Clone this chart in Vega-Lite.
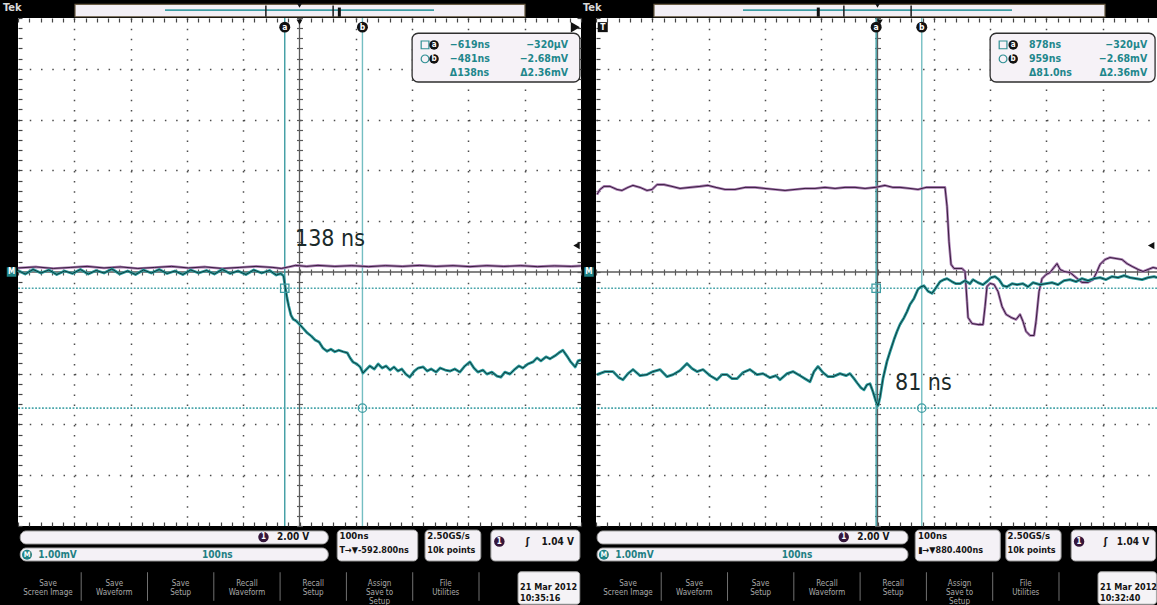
{
  "$schema": "https://vega.github.io/schema/vega-lite/v6.json",
  "background": "#000000",
  "padding": 0,
  "columns": 4,
  "spacing": 0,
  "bounds": "flush",
  "config": {
    "view": {"stroke": null},
    "font": "Liberation Sans Narrow, DejaVu Sans Condensed, sans-serif"
  },
  "datasets": {
    "math_l": [
      {"t": -1093, "v": 0.03}, {"t": -1080, "v": -0.04}, {"t": -1066, "v": 0.05}, {"t": -1052, "v": -0.02}, {"t": -1038, "v": 0.04},
      {"t": -1024, "v": -0.05}, {"t": -1010, "v": 0.02}, {"t": -996, "v": -0.03}, {"t": -982, "v": 0.05}, {"t": -968, "v": -0.04},
      {"t": -954, "v": 0.03}, {"t": -940, "v": -0.02}, {"t": -926, "v": 0.06}, {"t": -912, "v": -0.04}, {"t": -898, "v": 0.02},
      {"t": -884, "v": -0.05}, {"t": -870, "v": 0.04}, {"t": -856, "v": -0.02}, {"t": -842, "v": 0.05}, {"t": -828, "v": -0.03},
      {"t": -814, "v": 0.02}, {"t": -800, "v": -0.05}, {"t": -786, "v": 0.04}, {"t": -772, "v": -0.02}, {"t": -758, "v": 0.03},
      {"t": -744, "v": -0.04}, {"t": -730, "v": 0.05}, {"t": -716, "v": -0.03}, {"t": -702, "v": 0.02}, {"t": -688, "v": -0.05},
      {"t": -674, "v": 0.04}, {"t": -660, "v": -0.02}, {"t": -646, "v": 0.03}, {"t": -634, "v": -0.06}, {"t": -626, "v": -0.03},
      {"t": -621, "v": -0.08}, {"t": -618, "v": -0.31}, {"t": -615, "v": -0.51}, {"t": -612, "v": -0.67}, {"t": -608, "v": -0.85},
      {"t": -604, "v": -0.93}, {"t": -599, "v": -0.96}, {"t": -592, "v": -1.04}, {"t": -587, "v": -1.10}, {"t": -579, "v": -1.20},
      {"t": -572, "v": -1.26}, {"t": -565, "v": -1.34}, {"t": -558, "v": -1.38}, {"t": -551, "v": -1.50}, {"t": -544, "v": -1.56},
      {"t": -537, "v": -1.52}, {"t": -530, "v": -1.57}, {"t": -523, "v": -1.54}, {"t": -515, "v": -1.57}, {"t": -508, "v": -1.59},
      {"t": -503, "v": -1.69}, {"t": -498, "v": -1.77}, {"t": -491, "v": -1.81}, {"t": -485, "v": -1.87}, {"t": -480, "v": -1.99},
      {"t": -475, "v": -1.93}, {"t": -468, "v": -1.85}, {"t": -460, "v": -1.91}, {"t": -453, "v": -1.81}, {"t": -446, "v": -1.89},
      {"t": -439, "v": -1.85}, {"t": -432, "v": -1.93}, {"t": -425, "v": -1.87}, {"t": -418, "v": -1.95}, {"t": -411, "v": -1.91},
      {"t": -404, "v": -2.01}, {"t": -397, "v": -2.07}, {"t": -389, "v": -1.95}, {"t": -382, "v": -1.89}, {"t": -373, "v": -1.87},
      {"t": -366, "v": -1.95}, {"t": -359, "v": -1.91}, {"t": -350, "v": -1.97}, {"t": -343, "v": -1.89}, {"t": -334, "v": -1.93},
      {"t": -325, "v": -1.95}, {"t": -317, "v": -1.91}, {"t": -308, "v": -1.97}, {"t": -299, "v": -1.85}, {"t": -290, "v": -1.77},
      {"t": -283, "v": -1.89}, {"t": -276, "v": -1.97}, {"t": -267, "v": -1.93}, {"t": -260, "v": -2.01}, {"t": -251, "v": -1.97},
      {"t": -242, "v": -2.05}, {"t": -235, "v": -2.07}, {"t": -228, "v": -1.97}, {"t": -219, "v": -2.01}, {"t": -210, "v": -1.91},
      {"t": -203, "v": -1.85}, {"t": -196, "v": -1.89}, {"t": -187, "v": -1.81}, {"t": -178, "v": -1.77}, {"t": -171, "v": -1.69},
      {"t": -164, "v": -1.75}, {"t": -155, "v": -1.67}, {"t": -148, "v": -1.71}, {"t": -139, "v": -1.65}, {"t": -132, "v": -1.59},
      {"t": -125, "v": -1.54}, {"t": -118, "v": -1.65}, {"t": -111, "v": -1.77}, {"t": -103, "v": -1.87}, {"t": -98, "v": -1.75},
      {"t": -93, "v": -1.73}
    ],
    "ch1_l": [
      {"t": -1093, "v": 0.16}, {"t": -1060, "v": 0.2}, {"t": -1030, "v": 0.14}, {"t": -1000, "v": 0.18}, {"t": -970, "v": 0.22},
      {"t": -940, "v": 0.16}, {"t": -910, "v": 0.2}, {"t": -880, "v": 0.14}, {"t": -850, "v": 0.18}, {"t": -820, "v": 0.22},
      {"t": -790, "v": 0.16}, {"t": -760, "v": 0.2}, {"t": -730, "v": 0.14}, {"t": -700, "v": 0.18}, {"t": -670, "v": 0.22},
      {"t": -640, "v": 0.18}, {"t": -625, "v": 0.14}, {"t": -612, "v": 0.2}, {"t": -600, "v": 0.26}, {"t": -580, "v": 0.22},
      {"t": -560, "v": 0.26}, {"t": -530, "v": 0.22}, {"t": -500, "v": 0.25}, {"t": -470, "v": 0.21}, {"t": -440, "v": 0.25},
      {"t": -410, "v": 0.22}, {"t": -380, "v": 0.26}, {"t": -350, "v": 0.22}, {"t": -320, "v": 0.25}, {"t": -290, "v": 0.21},
      {"t": -260, "v": 0.25}, {"t": -230, "v": 0.22}, {"t": -200, "v": 0.25}, {"t": -170, "v": 0.21}, {"t": -140, "v": 0.24},
      {"t": -110, "v": 0.22}, {"t": -93, "v": 0.24}
    ],
    "math_r": [
      {"t": 382.2, "v": -2.02}, {"t": 396.4, "v": -1.96}, {"t": 410.6, "v": -1.96}, {"t": 421.3, "v": -2.08}, {"t": 428.4, "v": -2.12},
      {"t": 437.2, "v": -2.0}, {"t": 446.1, "v": -1.92}, {"t": 458.6, "v": -2.04}, {"t": 471.0, "v": -2.02}, {"t": 481.6, "v": -1.96},
      {"t": 494.1, "v": -1.92}, {"t": 506.5, "v": -2.06}, {"t": 517.2, "v": -2.02}, {"t": 529.6, "v": -1.94}, {"t": 542.0, "v": -1.8},
      {"t": 550.9, "v": -1.9}, {"t": 559.8, "v": -1.96}, {"t": 570.5, "v": -1.92}, {"t": 582.9, "v": -2.04}, {"t": 595.3, "v": -2.12},
      {"t": 604.2, "v": -2.02}, {"t": 613.1, "v": -2.02}, {"t": 622.0, "v": -2.1}, {"t": 630.8, "v": -2.1}, {"t": 641.5, "v": -1.98},
      {"t": 653.9, "v": -1.92}, {"t": 666.4, "v": -2.02}, {"t": 677.0, "v": -2.0}, {"t": 689.5, "v": -2.08}, {"t": 700.1, "v": -2.04},
      {"t": 707.2, "v": -2.12}, {"t": 719.7, "v": -2.0}, {"t": 730.3, "v": -1.96}, {"t": 742.7, "v": -2.04}, {"t": 751.6, "v": -2.1},
      {"t": 760.5, "v": -2.16}, {"t": 767.6, "v": -1.96}, {"t": 774.7, "v": -1.86}, {"t": 783.6, "v": -1.98}, {"t": 792.5, "v": -2.06},
      {"t": 801.4, "v": -2.06}, {"t": 813.8, "v": -2.0}, {"t": 824.5, "v": -2.04}, {"t": 831.5, "v": -2.0}, {"t": 838.7, "v": -2.1},
      {"t": 844.0, "v": -2.18}, {"t": 851.1, "v": -2.28}, {"t": 856.4, "v": -2.32}, {"t": 861.7, "v": -2.22}, {"t": 867.1, "v": -2.2},
      {"t": 872.4, "v": -2.36}, {"t": 877.7, "v": -2.55}, {"t": 881.3, "v": -2.63}, {"t": 884.8, "v": -2.47}, {"t": 890.1, "v": -2.1},
      {"t": 897.2, "v": -1.76}, {"t": 902.6, "v": -1.57}, {"t": 909.7, "v": -1.33}, {"t": 915.0, "v": -1.17}, {"t": 920.4, "v": -1.03},
      {"t": 927.5, "v": -0.9}, {"t": 932.8, "v": -0.78}, {"t": 938.1, "v": -0.64}, {"t": 945.2, "v": -0.52}, {"t": 952.3, "v": -0.34},
      {"t": 957.7, "v": -0.29}, {"t": 963.0, "v": -0.27}, {"t": 970.1, "v": -0.38}, {"t": 977.2, "v": -0.42}, {"t": 984.3, "v": -0.31},
      {"t": 991.4, "v": -0.19}, {"t": 998.5, "v": -0.15}, {"t": 1003.9, "v": -0.13}, {"t": 1012.7, "v": -0.19}, {"t": 1019.8, "v": -0.23},
      {"t": 1026.9, "v": -0.23}, {"t": 1035.8, "v": -0.17}, {"t": 1044.7, "v": -0.23}, {"t": 1050.0, "v": -0.15}, {"t": 1058.9, "v": -0.21},
      {"t": 1067.8, "v": -0.25}, {"t": 1076.7, "v": -0.17}, {"t": 1082.0, "v": -0.11}, {"t": 1089.1, "v": -0.09}, {"t": 1096.2, "v": -0.15},
      {"t": 1103.3, "v": -0.27}, {"t": 1110.4, "v": -0.29}, {"t": 1119.3, "v": -0.23}, {"t": 1128.2, "v": -0.25}, {"t": 1138.8, "v": -0.23},
      {"t": 1147.7, "v": -0.29}, {"t": 1156.6, "v": -0.21}, {"t": 1169.0, "v": -0.25}, {"t": 1179.7, "v": -0.23}, {"t": 1190.3, "v": -0.21},
      {"t": 1201.0, "v": -0.25}, {"t": 1211.7, "v": -0.17}, {"t": 1222.3, "v": -0.15}, {"t": 1233.0, "v": -0.19}, {"t": 1243.6, "v": -0.13},
      {"t": 1254.3, "v": -0.17}, {"t": 1265.0, "v": -0.13}, {"t": 1275.6, "v": -0.11}, {"t": 1286.3, "v": -0.15}, {"t": 1297.0, "v": -0.09},
      {"t": 1307.6, "v": -0.11}, {"t": 1318.3, "v": -0.07}, {"t": 1329.0, "v": -0.11}, {"t": 1339.6, "v": -0.13}, {"t": 1350.3, "v": -0.15},
      {"t": 1361.0, "v": -0.11}, {"t": 1371.6, "v": -0.09}, {"t": 1376.9, "v": -0.11}
    ],
    "ch1_r": [
      {"t": 382.2, "v": 3.05}, {"t": 387.5, "v": 3.25}, {"t": 394.6, "v": 3.37}, {"t": 405.3, "v": 3.37}, {"t": 417.7, "v": 3.25},
      {"t": 426.6, "v": 3.21}, {"t": 437.2, "v": 3.33}, {"t": 446.1, "v": 3.41}, {"t": 458.6, "v": 3.33}, {"t": 471.0, "v": 3.21},
      {"t": 479.9, "v": 3.25}, {"t": 488.8, "v": 3.44}, {"t": 501.2, "v": 3.44}, {"t": 515.4, "v": 3.37}, {"t": 529.6, "v": 3.29},
      {"t": 547.4, "v": 3.33}, {"t": 565.1, "v": 3.37}, {"t": 579.3, "v": 3.41}, {"t": 593.5, "v": 3.33}, {"t": 609.5, "v": 3.25},
      {"t": 627.3, "v": 3.25}, {"t": 645.1, "v": 3.33}, {"t": 662.9, "v": 3.33}, {"t": 680.6, "v": 3.29}, {"t": 698.4, "v": 3.25},
      {"t": 716.2, "v": 3.21}, {"t": 733.9, "v": 3.25}, {"t": 751.7, "v": 3.29}, {"t": 769.4, "v": 3.29}, {"t": 787.2, "v": 3.33},
      {"t": 805.0, "v": 3.29}, {"t": 822.7, "v": 3.33}, {"t": 840.5, "v": 3.33}, {"t": 858.3, "v": 3.29}, {"t": 876.0, "v": 3.33},
      {"t": 893.8, "v": 3.41}, {"t": 908.0, "v": 3.33}, {"t": 920.4, "v": 3.33}, {"t": 938.1, "v": 3.29}, {"t": 952.3, "v": 3.25},
      {"t": 966.5, "v": 3.33}, {"t": 982.5, "v": 3.33}, {"t": 1000.3, "v": 3.33}, {"t": 1003.9, "v": 2.58}, {"t": 1007.4, "v": 1.2},
      {"t": 1011.0, "v": 0.3}, {"t": 1016.3, "v": 0.14}, {"t": 1023.4, "v": 0.14}, {"t": 1030.5, "v": 0.14}, {"t": 1035.8, "v": 0.02},
      {"t": 1039.4, "v": -1.16}, {"t": 1041.2, "v": -1.79}, {"t": 1048.3, "v": -2.03}, {"t": 1058.9, "v": -2.07}, {"t": 1067.8, "v": -2.07},
      {"t": 1071.4, "v": -1.36}, {"t": 1074.9, "v": -0.57}, {"t": 1080.3, "v": -0.45}, {"t": 1087.4, "v": -0.49}, {"t": 1094.5, "v": -0.77},
      {"t": 1101.6, "v": -1.36}, {"t": 1108.7, "v": -1.67}, {"t": 1117.6, "v": -1.79}, {"t": 1126.5, "v": -1.87}, {"t": 1133.6, "v": -1.67},
      {"t": 1138.8, "v": -1.95}, {"t": 1144.2, "v": -2.34}, {"t": 1151.3, "v": -2.5}, {"t": 1158.4, "v": -2.5}, {"t": 1161.9, "v": -1.95},
      {"t": 1167.3, "v": -0.77}, {"t": 1172.6, "v": -0.26}, {"t": 1179.7, "v": -0.1}, {"t": 1186.8, "v": -0.02}, {"t": 1193.9, "v": 0.18},
      {"t": 1199.2, "v": 0.33}, {"t": 1204.6, "v": 0.1}, {"t": 1211.7, "v": 0.02}, {"t": 1222.3, "v": -0.02}, {"t": 1233.0, "v": -0.22},
      {"t": 1243.6, "v": -0.41}, {"t": 1254.3, "v": -0.41}, {"t": 1263.2, "v": -0.3}, {"t": 1270.3, "v": 0.02}, {"t": 1275.6, "v": 0.3},
      {"t": 1284.5, "v": 0.49}, {"t": 1293.4, "v": 0.57}, {"t": 1304.1, "v": 0.53}, {"t": 1314.7, "v": 0.49}, {"t": 1323.6, "v": 0.33},
      {"t": 1332.5, "v": 0.22}, {"t": 1343.2, "v": 0.1}, {"t": 1352.1, "v": 0.02}, {"t": 1361.0, "v": 0.1}, {"t": 1369.9, "v": 0.18},
      {"t": 1376.9, "v": 0.14}
    ],
    "cur_l": [{"cursor": "a", "t": -619, "v": -0.32}, {"cursor": "b", "t": -481, "v": -2.68}],
    "cur_r": [{"cursor": "a", "t": 878, "v": -0.32}, {"cursor": "b", "t": 959, "v": -2.68}],
    "ro_l": [
      {"row": 1, "cursor": "a", "time": "−619ns", "volt": "−320µV"},
      {"row": 2, "cursor": "b", "time": "−481ns", "volt": "−2.68mV"},
      {"row": 3, "cursor": "Δ", "time": "Δ138ns", "volt": "Δ2.36mV"}
    ],
    "ro_r": [
      {"row": 1, "cursor": "a", "time": "878ns", "volt": "−320µV"},
      {"row": 2, "cursor": "b", "time": "959ns", "volt": "−2.68mV"},
      {"row": 3, "cursor": "Δ", "time": "Δ81.0ns", "volt": "Δ2.36mV"}
    ],
    "rec_l": [{"part": "record", "start": -2592.8, "end": 1407.2}, {"part": "screen", "start": -1092.8, "end": -92.8}],
    "rec_r": [{"part": "record", "start": -1119.6, "end": 2880.4}, {"part": "screen", "start": 380.4, "end": 1380.4}],
    "menu": [
      {"slot": 1, "label": "Save\nScreen Image"},
      {"slot": 2, "label": "Save\nWaveform"},
      {"slot": 3, "label": "Save\nSetup"},
      {"slot": 4, "label": "Recall\nWaveform"},
      {"slot": 5, "label": "Recall\nSetup"},
      {"slot": 6, "label": "Assign\nSave to\nSetup"},
      {"slot": 7, "label": "File\nUtilities"}
    ]
  },
  "concat": [
    {
      "width": 18, "height": 18, "data": {"values": [{}]},
      "mark": {"type": "text", "text": "Tek", "fontSize": 11, "fontWeight": "bold", "color": "#d9d9d9", "align": "left", "baseline": "middle"},
      "encoding": {"x": {"datum": 0.17, "type": "quantitative", "scale": {"domain": [0, 1], "nice": false, "zero": false}, "axis": null},
                   "y": {"datum": 0.45, "type": "quantitative", "scale": {"domain": [0, 1], "reverse": true, "nice": false, "zero": false}, "axis": null}}
    },
    {
      "width": 563,
      "height": 18,
      "data": {"values": [{}]},
      "layer": [
        {"mark": {"type": "rect", "fill": "#f3eff5", "stroke": "#6b5d45", "strokeWidth": 1.2},
         "encoding": {"x": {"datum": -3931, "type": "quantitative", "scale": {"domain": [-4778.7, 3593.1], "nice": false, "zero": false}, "axis": null}, "x2": {"datum": 2760},
                      "y": {"datum": 0.24, "type": "quantitative", "scale": {"domain": [0, 1], "reverse": true, "nice": false, "zero": false}, "axis": null}, "y2": {"datum": 0.93}}},
        {"data": {"name": "rec_l"}, "transform": [{"filter": "datum.part == 'record'"}],
         "mark": {"type": "rule", "color": "#3d9da3", "strokeWidth": 1.6},
         "encoding": {"x": {"field": "start", "type": "quantitative", "axis": null}, "x2": {"field": "end"},
                      "y": {"datum": 0.56, "type": "quantitative", "axis": null}}},
        {"data": {"name": "rec_l"}, "transform": [{"filter": "datum.part == 'screen'"}],
         "mark": {"type": "rule", "color": "#1a1a1a", "strokeWidth": 1.5},
         "encoding": {"x": {"field": "start", "type": "quantitative", "axis": null},
                      "y": {"datum": 0.3, "type": "quantitative", "axis": null}, "y2": {"datum": 0.93}}},
        {"data": {"name": "rec_l"}, "transform": [{"filter": "datum.part == 'screen'"}],
         "mark": {"type": "rule", "color": "#1a1a1a", "strokeWidth": 1.5},
         "encoding": {"x": {"field": "end", "type": "quantitative", "axis": null},
                      "y": {"datum": 0.3, "type": "quantitative", "axis": null}, "y2": {"datum": 0.93}}},
        {"mark": {"type": "rule", "color": "#111111", "strokeWidth": 3},
         "encoding": {"x": {"datum": 0, "type": "quantitative", "axis": null},
                      "y": {"datum": 0.42, "type": "quantitative", "axis": null}, "y2": {"datum": 0.93}}},
        {"mark": {"type": "point", "shape": "triangle-down", "filled": true, "color": "#111111", "size": 30, "opacity": 1},
         "encoding": {"x": {"datum": -592.8, "type": "quantitative", "axis": null},
                      "y": {"datum": 0.3, "type": "quantitative", "axis": null}}}
      ]
    },
    {
      "width": 15, "height": 18, "data": {"values": [{}]},
      "mark": {"type": "text", "text": "Tek", "fontSize": 11, "fontWeight": "bold", "color": "#d9d9d9", "align": "left", "baseline": "middle"},
      "encoding": {"x": {"datum": 0.13, "type": "quantitative", "scale": {"domain": [0, 1], "nice": false, "zero": false}, "axis": null},
                   "y": {"datum": 0.45, "type": "quantitative", "scale": {"domain": [0, 1], "reverse": true, "nice": false, "zero": false}, "axis": null}}
    },
    {
      "width": 561,
      "height": 18,
      "data": {"values": [{}]},
      "layer": [
        {"mark": {"type": "rect", "fill": "#f3eff5", "stroke": "#6b5d45", "strokeWidth": 1.2},
         "encoding": {"x": {"datum": -2443, "type": "quantitative", "scale": {"domain": [-3305.5, 5036.6], "nice": false, "zero": false}, "axis": null}, "x2": {"datum": 4263},
                      "y": {"datum": 0.24, "type": "quantitative", "scale": {"domain": [0, 1], "reverse": true, "nice": false, "zero": false}, "axis": null}, "y2": {"datum": 0.93}}},
        {"data": {"name": "rec_r"}, "transform": [{"filter": "datum.part == 'record'"}],
         "mark": {"type": "rule", "color": "#3d9da3", "strokeWidth": 1.6},
         "encoding": {"x": {"field": "start", "type": "quantitative", "axis": null}, "x2": {"field": "end"},
                      "y": {"datum": 0.56, "type": "quantitative", "axis": null}}},
        {"data": {"name": "rec_r"}, "transform": [{"filter": "datum.part == 'screen'"}],
         "mark": {"type": "rule", "color": "#1a1a1a", "strokeWidth": 1.5},
         "encoding": {"x": {"field": "start", "type": "quantitative", "axis": null},
                      "y": {"datum": 0.3, "type": "quantitative", "axis": null}, "y2": {"datum": 0.93}}},
        {"data": {"name": "rec_r"}, "transform": [{"filter": "datum.part == 'screen'"}],
         "mark": {"type": "rule", "color": "#1a1a1a", "strokeWidth": 1.5},
         "encoding": {"x": {"field": "end", "type": "quantitative", "axis": null},
                      "y": {"datum": 0.3, "type": "quantitative", "axis": null}, "y2": {"datum": 0.93}}},
        {"mark": {"type": "rule", "color": "#111111", "strokeWidth": 3},
         "encoding": {"x": {"datum": 0, "type": "quantitative", "axis": null},
                      "y": {"datum": 0.42, "type": "quantitative", "axis": null}, "y2": {"datum": 0.93}}},
        {"mark": {"type": "point", "shape": "triangle-down", "filled": true, "color": "#111111", "size": 30, "opacity": 1},
         "encoding": {"x": {"datum": 880.4, "type": "quantitative", "axis": null},
                      "y": {"datum": 0.3, "type": "quantitative", "axis": null}}}
      ]
    },
    {
      "width": 18,
      "height": 508,
      "data": {"values": [{}]},
      "layer": [
        {"mark": {"type": "point", "shape": "square", "filled": true, "color": "#1f8386", "size": 90, "opacity": 1},
         "encoding": {"x": {"datum": 0.64, "type": "quantitative", "scale": {"domain": [0, 1], "nice": false, "zero": false}, "axis": null},
                      "y": {"datum": 0, "type": "quantitative", "scale": {"domain": [-5, 5], "nice": false, "zero": false}, "axis": null}}},
        {"mark": {"type": "text", "text": "M", "color": "#ffffff", "fontSize": 8, "fontWeight": "bold", "baseline": "middle"},
         "encoding": {"x": {"datum": 0.64, "type": "quantitative", "axis": null},
                      "y": {"datum": 0, "type": "quantitative", "axis": null}}}
      ]
    },
    {
      "width": 563,
      "height": 508,
      "view": {"fill": "#ffffff", "stroke": null},
      "data": {"values": [{}]},
      "resolve": {"scale": {"x": "independent", "y": "independent"}, "axis": {"x": "independent", "y": "independent"}},
      "layer": [
        {"mark": {"type": "rule", "color": "#5a5a5a", "strokeWidth": 1.3},
         "encoding": {"x": {"datum": 0, "type": "quantitative", "scale": {"domain": [0, 10], "nice": false, "zero": false}, "axis": null}, "x2": {"datum": 10},
           "y": {"datum": 0, "type": "quantitative", "scale": {"domain": [-5, 5], "nice": false, "zero": false},
           "axis": {"orient": "left", "values": [-4, -3, -2, -1, 1, 2, 3, 4], "grid": true, "gridColor": "#4d4d4d", "gridWidth": 1.5, "gridDash": [1.5, 9.76], "ticks": false, "labels": false, "domain": false, "title": null}}}},
        {"mark": {"type": "rule", "color": "#5a5a5a", "strokeWidth": 1.3},
         "encoding": {"x": {"datum": 5, "type": "quantitative", "scale": {"domain": [0, 10], "nice": false, "zero": false},
           "axis": {"orient": "bottom", "values": [1, 2, 3, 4, 6, 7, 8, 9], "grid": true, "gridColor": "#4d4d4d", "gridWidth": 1.5, "gridDash": [1.5, 8.66], "ticks": false, "labels": false, "domain": false, "title": null}},
           "y": {"datum": -5, "type": "quantitative", "scale": {"domain": [-5, 5], "nice": false, "zero": false}, "axis": null}, "y2": {"datum": 5}}},
        {"mark": {"type": "point", "opacity": 0},
         "encoding": {
           "x": {"datum": 5, "type": "quantitative", "scale": {"domain": [0, 10], "nice": false, "zero": false},
             "axis": {"orient": "bottom", "offset": -257, "tickCount": 50, "tickSize": 6, "tickColor": "#5a5a5a", "tickWidth": 1.2, "grid": false, "labels": false, "domain": false, "title": null}},
           "y": {"datum": 0, "type": "quantitative", "scale": {"domain": [-5, 5], "nice": false, "zero": false},
             "axis": {"orient": "left", "offset": -284.5, "tickCount": 50, "tickSize": 6, "tickColor": "#5a5a5a", "tickWidth": 1.2, "grid": false, "labels": false, "domain": false, "title": null}}}},
        {"mark": {"type": "point", "opacity": 0},
         "encoding": {
           "x": {"datum": 5, "type": "quantitative", "scale": {"domain": [0, 10], "nice": false, "zero": false},
             "axis": {"orient": "top", "offset": -4, "tickCount": 50, "tickSize": 4, "tickColor": "#444444", "tickWidth": 1.2, "grid": false, "labels": false, "domain": false, "title": null}},
           "y": {"datum": 0, "type": "quantitative", "scale": {"domain": [-5, 5], "nice": false, "zero": false},
             "axis": {"orient": "left", "offset": -4, "tickCount": 50, "tickSize": 4, "tickColor": "#444444", "tickWidth": 1.2, "grid": false, "labels": false, "domain": false, "title": null}}}},
        {"mark": {"type": "point", "opacity": 0},
         "encoding": {
           "x": {"datum": 5, "type": "quantitative", "scale": {"domain": [0, 10], "nice": false, "zero": false},
             "axis": {"orient": "bottom", "offset": -4, "tickCount": 50, "tickSize": 4, "tickColor": "#444444", "tickWidth": 1.2, "grid": false, "labels": false, "domain": false, "title": null}},
           "y": {"datum": 0, "type": "quantitative", "scale": {"domain": [-5, 5], "nice": false, "zero": false},
             "axis": {"orient": "right", "offset": -4, "tickCount": 50, "tickSize": 4, "tickColor": "#444444", "tickWidth": 1.2, "grid": false, "labels": false, "domain": false, "title": null}}}},
        {"data": {"name": "cur_l"}, "mark": {"type": "rule", "strokeWidth": 1.4},
         "encoding": {"x": {"field": "t", "type": "quantitative", "scale": {"domain": [-1092.8, -92.8], "nice": false, "zero": false}, "axis": null},
                      "color": {"field": "cursor", "type": "nominal", "scale": {"domain": ["a", "b"], "range": ["#3d9ca2", "#74bec2"]}, "legend": null}}},
        {"data": {"name": "cur_l"}, "mark": {"type": "rule", "color": "#4aa6ab", "strokeWidth": 1.6, "strokeDash": [1.8, 1.6]},
         "encoding": {"y": {"field": "v", "type": "quantitative", "scale": {"domain": [-5, 5], "nice": false, "zero": false}, "axis": null}}},
        {"data": {"name": "ch1_l"}, "mark": {"type": "line", "color": "#a97db2", "strokeWidth": 2.6, "strokeJoin": "round"},
         "encoding": {"x": {"field": "t", "type": "quantitative", "scale": {"domain": [-1092.8, -92.8], "nice": false, "zero": false}, "axis": null},
                      "y": {"field": "v", "type": "quantitative", "scale": {"domain": [-10, 10], "nice": false, "zero": false}, "axis": null}}},
        {"data": {"name": "ch1_l"}, "mark": {"type": "line", "color": "#2b1331", "strokeWidth": 0.9, "strokeJoin": "round"},
         "encoding": {"x": {"field": "t", "type": "quantitative", "scale": {"domain": [-1092.8, -92.8], "nice": false, "zero": false}, "axis": null},
                      "y": {"field": "v", "type": "quantitative", "scale": {"domain": [-10, 10], "nice": false, "zero": false}, "axis": null}}},
        {"data": {"name": "math_l"}, "mark": {"type": "line", "color": "#2c9c9e", "strokeWidth": 2.8, "strokeJoin": "round"},
         "encoding": {"x": {"field": "t", "type": "quantitative", "scale": {"domain": [-1092.8, -92.8], "nice": false, "zero": false}, "axis": null},
                      "y": {"field": "v", "type": "quantitative", "scale": {"domain": [-5, 5], "nice": false, "zero": false}, "axis": null}}},
        {"data": {"name": "math_l"}, "mark": {"type": "line", "color": "#0f3c3d", "strokeWidth": 1, "strokeJoin": "round"},
         "encoding": {"x": {"field": "t", "type": "quantitative", "scale": {"domain": [-1092.8, -92.8], "nice": false, "zero": false}, "axis": null},
                      "y": {"field": "v", "type": "quantitative", "scale": {"domain": [-5, 5], "nice": false, "zero": false}, "axis": null}}},
        {"data": {"name": "cur_l"}, "mark": {"type": "point", "filled": false, "color": "#3d9ca2", "size": 70, "strokeWidth": 1.3, "opacity": 1},
         "encoding": {"x": {"field": "t", "type": "quantitative", "scale": {"domain": [-1092.8, -92.8], "nice": false, "zero": false}, "axis": null},
                      "y": {"field": "v", "type": "quantitative", "scale": {"domain": [-5, 5], "nice": false, "zero": false}, "axis": null},
                      "shape": {"field": "cursor", "type": "nominal", "scale": {"domain": ["a", "b"], "range": ["square", "circle"]}, "legend": null}}},
        {"data": {"name": "cur_l"}, "mark": {"type": "point", "filled": true, "shape": "circle", "color": "#111111", "size": 120, "opacity": 1},
         "encoding": {"x": {"field": "t", "type": "quantitative", "scale": {"domain": [-1092.8, -92.8], "nice": false, "zero": false}, "axis": null},
                      "y": {"datum": 4.82, "type": "quantitative", "scale": {"domain": [-5, 5], "nice": false, "zero": false}, "axis": null}}},
        {"data": {"name": "cur_l"}, "mark": {"type": "text", "color": "#ffffff", "fontSize": 8.5, "fontWeight": "bold", "baseline": "middle"},
         "encoding": {"x": {"field": "t", "type": "quantitative", "scale": {"domain": [-1092.8, -92.8], "nice": false, "zero": false}, "axis": null},
                      "y": {"datum": 4.82, "type": "quantitative", "scale": {"domain": [-5, 5], "nice": false, "zero": false}, "axis": null},
                      "text": {"field": "cursor"}}},
        {"mark": {"type": "point", "shape": "triangle-down", "filled": true, "color": "#111111", "size": 35, "opacity": 1},
         "encoding": {"x": {"datum": 5, "type": "quantitative", "scale": {"domain": [0, 10], "nice": false, "zero": false}, "axis": null},
                      "y": {"datum": 4.92, "type": "quantitative", "scale": {"domain": [-5, 5], "nice": false, "zero": false}, "axis": null}}},
        {"mark": {"type": "point", "shape": "triangle-right", "filled": true, "color": "#111111", "size": 110, "opacity": 1},
         "encoding": {"x": {"datum": 9.9, "type": "quantitative", "scale": {"domain": [0, 10], "nice": false, "zero": false}, "axis": null},
                      "y": {"datum": 4.82, "type": "quantitative", "scale": {"domain": [-5, 5], "nice": false, "zero": false}, "axis": null}}},
        {"mark": {"type": "point", "shape": "triangle-left", "filled": true, "color": "#111111", "size": 55, "opacity": 1},
         "encoding": {"x": {"datum": 9.92, "type": "quantitative", "scale": {"domain": [0, 10], "nice": false, "zero": false}, "axis": null},
                      "y": {"datum": 1.04, "type": "quantitative", "scale": {"domain": [-10, 10], "nice": false, "zero": false}, "axis": null}}},
        {"mark": {"type": "rect", "fill": "#f6f2f7", "stroke": "#2f2f2f", "strokeWidth": 1.3, "cornerRadius": 6},
         "encoding": {"x": {"datum": 7.0, "type": "quantitative", "scale": {"domain": [0, 10], "nice": false, "zero": false}, "axis": null}, "x2": {"datum": 9.98},
                      "y": {"datum": 4.7, "type": "quantitative", "scale": {"domain": [-5, 5], "nice": false, "zero": false}, "axis": null}, "y2": {"datum": 3.74}}},
        {"data": {"name": "ro_l"}, "transform": [{"filter": "datum.row < 3"}],
         "mark": {"type": "point", "filled": false, "color": "#2f8f94", "size": 60, "strokeWidth": 1.2, "opacity": 1},
         "encoding": {"x": {"datum": 7.23, "type": "quantitative", "scale": {"domain": [0, 10], "nice": false, "zero": false}, "axis": null},
                      "y": {"field": "row", "type": "quantitative", "scale": {"domain": [-0.92, 35.36], "reverse": true, "nice": false, "zero": false}, "axis": null},
                      "shape": {"field": "cursor", "type": "nominal", "scale": {"domain": ["a", "b"], "range": ["square", "circle"]}, "legend": null}}},
        {"data": {"name": "ro_l"}, "transform": [{"filter": "datum.row < 3"}],
         "mark": {"type": "point", "filled": true, "shape": "circle", "color": "#111111", "size": 90, "opacity": 1},
         "encoding": {"x": {"datum": 7.39, "type": "quantitative", "scale": {"domain": [0, 10], "nice": false, "zero": false}, "axis": null},
                      "y": {"field": "row", "type": "quantitative", "scale": {"domain": [-0.92, 35.36], "reverse": true, "nice": false, "zero": false}, "axis": null}}},
        {"data": {"name": "ro_l"}, "transform": [{"filter": "datum.row < 3"}],
         "mark": {"type": "text", "color": "#ffffff", "fontSize": 8, "fontWeight": "bold", "baseline": "middle"},
         "encoding": {"x": {"datum": 7.39, "type": "quantitative", "scale": {"domain": [0, 10], "nice": false, "zero": false}, "axis": null},
                      "y": {"field": "row", "type": "quantitative", "scale": {"domain": [-0.92, 35.36], "reverse": true, "nice": false, "zero": false}, "axis": null},
                      "text": {"field": "cursor"}}},
        {"data": {"name": "ro_l"},
         "mark": {"type": "text", "color": "#1f878c", "fontSize": 10.5, "fontWeight": "bold", "align": "left", "baseline": "middle"},
         "encoding": {"x": {"datum": 7.67, "type": "quantitative", "scale": {"domain": [0, 10], "nice": false, "zero": false}, "axis": null},
                      "y": {"field": "row", "type": "quantitative", "scale": {"domain": [-0.92, 35.36], "reverse": true, "nice": false, "zero": false}, "axis": null},
                      "text": {"field": "time"}}},
        {"data": {"name": "ro_l"},
         "mark": {"type": "text", "color": "#1f878c", "fontSize": 10.5, "fontWeight": "bold", "align": "right", "baseline": "middle"},
         "encoding": {"x": {"datum": 9.77, "type": "quantitative", "scale": {"domain": [0, 10], "nice": false, "zero": false}, "axis": null},
                      "y": {"field": "row", "type": "quantitative", "scale": {"domain": [-0.92, 35.36], "reverse": true, "nice": false, "zero": false}, "axis": null},
                      "text": {"field": "volt"}}},
        {"mark": {"type": "text", "text": "138 ns", "fontSize": 23, "align": "left", "baseline": "middle", "color": "#1b2a2a"},
         "encoding": {"x": {"datum": 4.92, "type": "quantitative", "scale": {"domain": [0, 10], "nice": false, "zero": false}, "axis": null},
                      "y": {"datum": 0.65, "type": "quantitative", "scale": {"domain": [-5, 5], "nice": false, "zero": false}, "axis": null}}}
      ]
    },
    {
      "width": 15,
      "height": 508,
      "data": {"values": [{}]},
      "layer": [
        {"mark": {"type": "point", "shape": "square", "filled": true, "color": "#1f8386", "size": 90, "opacity": 1},
         "encoding": {"x": {"datum": 0.53, "type": "quantitative", "scale": {"domain": [0, 1], "nice": false, "zero": false}, "axis": null},
                      "y": {"datum": 0, "type": "quantitative", "scale": {"domain": [-5, 5], "nice": false, "zero": false}, "axis": null}}},
        {"mark": {"type": "text", "text": "M", "color": "#ffffff", "fontSize": 8, "fontWeight": "bold", "baseline": "middle"},
         "encoding": {"x": {"datum": 0.53, "type": "quantitative", "axis": null},
                      "y": {"datum": 0, "type": "quantitative", "axis": null}}}
      ]
    },
    {
      "width": 561,
      "height": 508,
      "view": {"fill": "#ffffff", "stroke": null},
      "data": {"values": [{}]},
      "resolve": {"scale": {"x": "independent", "y": "independent"}, "axis": {"x": "independent", "y": "independent"}},
      "layer": [
        {"mark": {"type": "rule", "color": "#5a5a5a", "strokeWidth": 1.3},
         "encoding": {"x": {"datum": 0, "type": "quantitative", "scale": {"domain": [0, 9.964], "nice": false, "zero": false}, "axis": null}, "x2": {"datum": 9.964},
           "y": {"datum": 0, "type": "quantitative", "scale": {"domain": [-5, 5], "nice": false, "zero": false},
           "axis": {"orient": "left", "values": [-4, -3, -2, -1, 1, 2, 3, 4], "grid": true, "gridColor": "#4d4d4d", "gridWidth": 1.5, "gridDash": [1.5, 9.76], "ticks": false, "labels": false, "domain": false, "title": null}}}},
        {"mark": {"type": "rule", "color": "#5a5a5a", "strokeWidth": 1.3},
         "encoding": {"x": {"datum": 5, "type": "quantitative", "scale": {"domain": [0, 9.964], "nice": false, "zero": false},
           "axis": {"orient": "bottom", "values": [1, 2, 3, 4, 6, 7, 8, 9], "grid": true, "gridColor": "#4d4d4d", "gridWidth": 1.5, "gridDash": [1.5, 8.66], "ticks": false, "labels": false, "domain": false, "title": null}},
           "y": {"datum": -5, "type": "quantitative", "scale": {"domain": [-5, 5], "nice": false, "zero": false}, "axis": null}, "y2": {"datum": 5}}},
        {"mark": {"type": "point", "opacity": 0},
         "encoding": {
           "x": {"datum": 5, "type": "quantitative", "scale": {"domain": [0, 9.964], "nice": false, "zero": false},
             "axis": {"orient": "bottom", "offset": -257, "tickCount": 50, "tickSize": 6, "tickColor": "#5a5a5a", "tickWidth": 1.2, "grid": false, "labels": false, "domain": false, "title": null}},
           "y": {"datum": 0, "type": "quantitative", "scale": {"domain": [-5, 5], "nice": false, "zero": false},
             "axis": {"orient": "left", "offset": -284.5, "tickCount": 50, "tickSize": 6, "tickColor": "#5a5a5a", "tickWidth": 1.2, "grid": false, "labels": false, "domain": false, "title": null}}}},
        {"mark": {"type": "point", "opacity": 0},
         "encoding": {
           "x": {"datum": 5, "type": "quantitative", "scale": {"domain": [0, 9.964], "nice": false, "zero": false},
             "axis": {"orient": "top", "offset": -4, "tickCount": 50, "tickSize": 4, "tickColor": "#444444", "tickWidth": 1.2, "grid": false, "labels": false, "domain": false, "title": null}},
           "y": {"datum": 0, "type": "quantitative", "scale": {"domain": [-5, 5], "nice": false, "zero": false},
             "axis": {"orient": "left", "offset": -4, "tickCount": 50, "tickSize": 4, "tickColor": "#444444", "tickWidth": 1.2, "grid": false, "labels": false, "domain": false, "title": null}}}},
        {"mark": {"type": "point", "opacity": 0},
         "encoding": {
           "x": {"datum": 5, "type": "quantitative", "scale": {"domain": [0, 9.964], "nice": false, "zero": false},
             "axis": {"orient": "bottom", "offset": -4, "tickCount": 50, "tickSize": 4, "tickColor": "#444444", "tickWidth": 1.2, "grid": false, "labels": false, "domain": false, "title": null}},
           "y": {"datum": 0, "type": "quantitative", "scale": {"domain": [-5, 5], "nice": false, "zero": false}, "axis": null}}},
        {"data": {"name": "cur_r"}, "mark": {"type": "rule", "strokeWidth": 1.4},
         "encoding": {"x": {"field": "t", "type": "quantitative", "scale": {"domain": [380.4, 1376.8], "nice": false, "zero": false}, "axis": null},
                      "color": {"field": "cursor", "type": "nominal", "scale": {"domain": ["a", "b"], "range": ["#3d9ca2", "#74bec2"]}, "legend": null}}},
        {"data": {"name": "cur_r"}, "mark": {"type": "rule", "color": "#4aa6ab", "strokeWidth": 1.6, "strokeDash": [1.8, 1.6]},
         "encoding": {"y": {"field": "v", "type": "quantitative", "scale": {"domain": [-5, 5], "nice": false, "zero": false}, "axis": null}}},
        {"data": {"name": "ch1_r"}, "mark": {"type": "line", "color": "#a97db2", "strokeWidth": 2.6, "strokeJoin": "round"},
         "encoding": {"x": {"field": "t", "type": "quantitative", "scale": {"domain": [380.4, 1376.8], "nice": false, "zero": false}, "axis": null},
                      "y": {"field": "v", "type": "quantitative", "scale": {"domain": [-10, 10], "nice": false, "zero": false}, "axis": null}}},
        {"data": {"name": "ch1_r"}, "mark": {"type": "line", "color": "#2b1331", "strokeWidth": 0.9, "strokeJoin": "round"},
         "encoding": {"x": {"field": "t", "type": "quantitative", "scale": {"domain": [380.4, 1376.8], "nice": false, "zero": false}, "axis": null},
                      "y": {"field": "v", "type": "quantitative", "scale": {"domain": [-10, 10], "nice": false, "zero": false}, "axis": null}}},
        {"data": {"name": "math_r"}, "mark": {"type": "line", "color": "#2c9c9e", "strokeWidth": 2.8, "strokeJoin": "round"},
         "encoding": {"x": {"field": "t", "type": "quantitative", "scale": {"domain": [380.4, 1376.8], "nice": false, "zero": false}, "axis": null},
                      "y": {"field": "v", "type": "quantitative", "scale": {"domain": [-5, 5], "nice": false, "zero": false}, "axis": null}}},
        {"data": {"name": "math_r"}, "mark": {"type": "line", "color": "#0f3c3d", "strokeWidth": 1, "strokeJoin": "round"},
         "encoding": {"x": {"field": "t", "type": "quantitative", "scale": {"domain": [380.4, 1376.8], "nice": false, "zero": false}, "axis": null},
                      "y": {"field": "v", "type": "quantitative", "scale": {"domain": [-5, 5], "nice": false, "zero": false}, "axis": null}}},
        {"data": {"name": "cur_r"}, "mark": {"type": "point", "filled": false, "color": "#3d9ca2", "size": 70, "strokeWidth": 1.3, "opacity": 1},
         "encoding": {"x": {"field": "t", "type": "quantitative", "scale": {"domain": [380.4, 1376.8], "nice": false, "zero": false}, "axis": null},
                      "y": {"field": "v", "type": "quantitative", "scale": {"domain": [-5, 5], "nice": false, "zero": false}, "axis": null},
                      "shape": {"field": "cursor", "type": "nominal", "scale": {"domain": ["a", "b"], "range": ["square", "circle"]}, "legend": null}}},
        {"data": {"name": "cur_r"}, "mark": {"type": "point", "filled": true, "shape": "circle", "color": "#111111", "size": 120, "opacity": 1},
         "encoding": {"x": {"field": "t", "type": "quantitative", "scale": {"domain": [380.4, 1376.8], "nice": false, "zero": false}, "axis": null},
                      "y": {"datum": 4.82, "type": "quantitative", "scale": {"domain": [-5, 5], "nice": false, "zero": false}, "axis": null}}},
        {"data": {"name": "cur_r"}, "mark": {"type": "text", "color": "#ffffff", "fontSize": 8.5, "fontWeight": "bold", "baseline": "middle"},
         "encoding": {"x": {"field": "t", "type": "quantitative", "scale": {"domain": [380.4, 1376.8], "nice": false, "zero": false}, "axis": null},
                      "y": {"datum": 4.82, "type": "quantitative", "scale": {"domain": [-5, 5], "nice": false, "zero": false}, "axis": null},
                      "text": {"field": "cursor"}}},
        {"mark": {"type": "point", "shape": "triangle-down", "filled": true, "color": "#111111", "size": 35, "opacity": 1},
         "encoding": {"x": {"datum": 5.04, "type": "quantitative", "scale": {"domain": [0, 9.964], "nice": false, "zero": false}, "axis": null},
                      "y": {"datum": 4.92, "type": "quantitative", "scale": {"domain": [-5, 5], "nice": false, "zero": false}, "axis": null}}},
        {"mark": {"type": "point", "shape": "square", "filled": true, "color": "#111111", "size": 100, "opacity": 1},
         "encoding": {"x": {"datum": 0.12, "type": "quantitative", "scale": {"domain": [0, 9.964], "nice": false, "zero": false}, "axis": null},
                      "y": {"datum": 4.82, "type": "quantitative", "scale": {"domain": [-5, 5], "nice": false, "zero": false}, "axis": null}}},
        {"mark": {"type": "text", "text": "T", "color": "#ffffff", "fontSize": 8.5, "fontWeight": "bold", "baseline": "middle"},
         "encoding": {"x": {"datum": 0.12, "type": "quantitative", "scale": {"domain": [0, 9.964], "nice": false, "zero": false}, "axis": null},
                      "y": {"datum": 4.82, "type": "quantitative", "scale": {"domain": [-5, 5], "nice": false, "zero": false}, "axis": null}}},
        {"mark": {"type": "point", "shape": "triangle-left", "filled": true, "color": "#111111", "size": 55, "opacity": 1},
         "encoding": {"x": {"datum": 9.86, "type": "quantitative", "scale": {"domain": [0, 9.964], "nice": false, "zero": false}, "axis": null},
                      "y": {"datum": 1.04, "type": "quantitative", "scale": {"domain": [-10, 10], "nice": false, "zero": false}, "axis": null}}},
        {"mark": {"type": "rect", "fill": "#f6f2f7", "stroke": "#2f2f2f", "strokeWidth": 1.3, "cornerRadius": 6},
         "encoding": {"x": {"datum": 7.0, "type": "quantitative", "scale": {"domain": [0, 9.964], "nice": false, "zero": false}, "axis": null}, "x2": {"datum": 9.93},
                      "y": {"datum": 4.7, "type": "quantitative", "scale": {"domain": [-5, 5], "nice": false, "zero": false}, "axis": null}, "y2": {"datum": 3.74}}},
        {"data": {"name": "ro_r"}, "transform": [{"filter": "datum.row < 3"}],
         "mark": {"type": "point", "filled": false, "color": "#2f8f94", "size": 60, "strokeWidth": 1.2, "opacity": 1},
         "encoding": {"x": {"datum": 7.23, "type": "quantitative", "scale": {"domain": [0, 9.964], "nice": false, "zero": false}, "axis": null},
                      "y": {"field": "row", "type": "quantitative", "scale": {"domain": [-0.92, 35.36], "reverse": true, "nice": false, "zero": false}, "axis": null},
                      "shape": {"field": "cursor", "type": "nominal", "scale": {"domain": ["a", "b"], "range": ["square", "circle"]}, "legend": null}}},
        {"data": {"name": "ro_r"}, "transform": [{"filter": "datum.row < 3"}],
         "mark": {"type": "point", "filled": true, "shape": "circle", "color": "#111111", "size": 90, "opacity": 1},
         "encoding": {"x": {"datum": 7.41, "type": "quantitative", "scale": {"domain": [0, 9.964], "nice": false, "zero": false}, "axis": null},
                      "y": {"field": "row", "type": "quantitative", "scale": {"domain": [-0.92, 35.36], "reverse": true, "nice": false, "zero": false}, "axis": null}}},
        {"data": {"name": "ro_r"}, "transform": [{"filter": "datum.row < 3"}],
         "mark": {"type": "text", "color": "#ffffff", "fontSize": 8, "fontWeight": "bold", "baseline": "middle"},
         "encoding": {"x": {"datum": 7.41, "type": "quantitative", "scale": {"domain": [0, 9.964], "nice": false, "zero": false}, "axis": null},
                      "y": {"field": "row", "type": "quantitative", "scale": {"domain": [-0.92, 35.36], "reverse": true, "nice": false, "zero": false}, "axis": null},
                      "text": {"field": "cursor"}}},
        {"data": {"name": "ro_r"},
         "mark": {"type": "text", "color": "#1f878c", "fontSize": 10.5, "fontWeight": "bold", "align": "left", "baseline": "middle"},
         "encoding": {"x": {"datum": 7.69, "type": "quantitative", "scale": {"domain": [0, 9.964], "nice": false, "zero": false}, "axis": null},
                      "y": {"field": "row", "type": "quantitative", "scale": {"domain": [-0.92, 35.36], "reverse": true, "nice": false, "zero": false}, "axis": null},
                      "text": {"field": "time"}}},
        {"data": {"name": "ro_r"},
         "mark": {"type": "text", "color": "#1f878c", "fontSize": 10.5, "fontWeight": "bold", "align": "right", "baseline": "middle"},
         "encoding": {"x": {"datum": 9.79, "type": "quantitative", "scale": {"domain": [0, 9.964], "nice": false, "zero": false}, "axis": null},
                      "y": {"field": "row", "type": "quantitative", "scale": {"domain": [-0.92, 35.36], "reverse": true, "nice": false, "zero": false}, "axis": null},
                      "text": {"field": "volt"}}},
        {"mark": {"type": "text", "text": "81 ns", "fontSize": 23, "align": "left", "baseline": "middle", "color": "#1b2a2a"},
         "encoding": {"x": {"datum": 5.31, "type": "quantitative", "scale": {"domain": [0, 9.964], "nice": false, "zero": false}, "axis": null},
                      "y": {"datum": -2.19, "type": "quantitative", "scale": {"domain": [-5, 5], "nice": false, "zero": false}, "axis": null}}}
      ]
    },
    {"width": 18, "height": 37, "data": {"values": [{}]}, "mark": {"type": "text", "text": ""}},
    {
      "width": 563,
      "height": 37,
      "data": {"values": [{}]},
      "layer": [
        {"mark": {"type": "rect", "fill": "#f4f1f6", "stroke": "#a0a0a0", "strokeWidth": 1, "cornerRadius": 6},
         "encoding": {"x": {"datum": 0.04, "type": "quantitative", "scale": {"domain": [0, 10], "nice": false, "zero": false}, "axis": null}, "x2": {"datum": 5.51},
                      "y": {"datum": 0.27, "type": "quantitative", "scale": {"domain": [0, 2], "reverse": true, "nice": false, "zero": false}, "axis": null}, "y2": {"datum": 0.97}}},
        {"mark": {"type": "rect", "fill": "#f4f1f6", "stroke": "#a0a0a0", "strokeWidth": 1, "cornerRadius": 6},
         "encoding": {"x": {"datum": 0.04, "type": "quantitative", "axis": null}, "x2": {"datum": 5.51},
                      "y": {"datum": 1.19, "type": "quantitative", "axis": null}, "y2": {"datum": 1.89}}},
        {"mark": {"type": "rect", "fill": "#f4f1f6", "stroke": "#a0a0a0", "strokeWidth": 1, "cornerRadius": 4},
         "encoding": {"x": {"datum": 5.67, "type": "quantitative", "axis": null}, "x2": {"datum": 7.1},
                      "y": {"datum": 0.22, "type": "quantitative", "axis": null}, "y2": {"datum": 1.89}}},
        {"mark": {"type": "rect", "fill": "#f4f1f6", "stroke": "#a0a0a0", "strokeWidth": 1, "cornerRadius": 4},
         "encoding": {"x": {"datum": 7.23, "type": "quantitative", "axis": null}, "x2": {"datum": 8.22},
                      "y": {"datum": 0.22, "type": "quantitative", "axis": null}, "y2": {"datum": 1.89}}},
        {"mark": {"type": "rect", "fill": "#f4f1f6", "stroke": "#a0a0a0", "strokeWidth": 1, "cornerRadius": 4},
         "encoding": {"x": {"datum": 8.4, "type": "quantitative", "axis": null}, "x2": {"datum": 9.98},
                      "y": {"datum": 0.22, "type": "quantitative", "axis": null}, "y2": {"datum": 1.89}}},
        {"mark": {"type": "point", "filled": true, "shape": "circle", "color": "#35163b", "size": 110, "opacity": 1},
         "encoding": {"x": {"datum": 4.36, "type": "quantitative", "axis": null}, "y": {"datum": 0.6, "type": "quantitative", "axis": null}}},
        {"mark": {"type": "text", "text": "1", "color": "#ffffff", "fontSize": 8, "fontWeight": "bold", "baseline": "middle"},
         "encoding": {"x": {"datum": 4.36, "type": "quantitative", "axis": null}, "y": {"datum": 0.6, "type": "quantitative", "axis": null}}},
        {"mark": {"type": "text", "text": "2.00 V", "color": "#151515", "fontSize": 10, "fontWeight": "bold", "align": "left", "baseline": "middle"},
         "encoding": {"x": {"datum": 4.6, "type": "quantitative", "axis": null}, "y": {"datum": 0.6, "type": "quantitative", "axis": null}}},
        {"mark": {"type": "point", "filled": true, "shape": "circle", "color": "#1f8386", "size": 100, "opacity": 1},
         "encoding": {"x": {"datum": 0.16, "type": "quantitative", "axis": null}, "y": {"datum": 1.55, "type": "quantitative", "axis": null}}},
        {"mark": {"type": "text", "text": "M", "color": "#ffffff", "fontSize": 7.5, "fontWeight": "bold", "baseline": "middle"},
         "encoding": {"x": {"datum": 0.16, "type": "quantitative", "axis": null}, "y": {"datum": 1.55, "type": "quantitative", "axis": null}}},
        {"mark": {"type": "text", "text": "1.00mV", "color": "#1f7f83", "fontSize": 10, "fontWeight": "bold", "align": "left", "baseline": "middle"},
         "encoding": {"x": {"datum": 0.36, "type": "quantitative", "axis": null}, "y": {"datum": 1.55, "type": "quantitative", "axis": null}}},
        {"mark": {"type": "text", "text": "100ns", "color": "#1f7f83", "fontSize": 10, "fontWeight": "bold", "align": "left", "baseline": "middle"},
         "encoding": {"x": {"datum": 3.27, "type": "quantitative", "axis": null}, "y": {"datum": 1.55, "type": "quantitative", "axis": null}}},
        {"mark": {"type": "text", "text": "100ns", "color": "#151515", "fontSize": 9.5, "fontWeight": "bold", "align": "left", "baseline": "middle"},
         "encoding": {"x": {"datum": 5.71, "type": "quantitative", "axis": null}, "y": {"datum": 0.55, "type": "quantitative", "axis": null}}},
        {"mark": {"type": "text", "text": "T→▼-592.800ns", "color": "#151515", "fontSize": 9, "fontWeight": "bold", "align": "left", "baseline": "middle"},
         "encoding": {"x": {"datum": 5.71, "type": "quantitative", "axis": null}, "y": {"datum": 1.3, "type": "quantitative", "axis": null}}},
        {"mark": {"type": "text", "text": "2.50GS/s", "color": "#151515", "fontSize": 9.5, "fontWeight": "bold", "align": "left", "baseline": "middle"},
         "encoding": {"x": {"datum": 7.27, "type": "quantitative", "axis": null}, "y": {"datum": 0.55, "type": "quantitative", "axis": null}}},
        {"mark": {"type": "text", "text": "10k points", "color": "#151515", "fontSize": 9, "fontWeight": "bold", "align": "left", "baseline": "middle"},
         "encoding": {"x": {"datum": 7.27, "type": "quantitative", "axis": null}, "y": {"datum": 1.3, "type": "quantitative", "axis": null}}},
        {"mark": {"type": "point", "filled": true, "shape": "circle", "color": "#35163b", "size": 110, "opacity": 1},
         "encoding": {"x": {"datum": 8.55, "type": "quantitative", "axis": null}, "y": {"datum": 0.84, "type": "quantitative", "axis": null}}},
        {"mark": {"type": "text", "text": "1", "color": "#ffffff", "fontSize": 8, "fontWeight": "bold", "baseline": "middle"},
         "encoding": {"x": {"datum": 8.55, "type": "quantitative", "axis": null}, "y": {"datum": 0.84, "type": "quantitative", "axis": null}}},
        {"mark": {"type": "text", "text": "ʃ", "color": "#151515", "fontSize": 10, "fontWeight": "bold", "baseline": "middle"},
         "encoding": {"x": {"datum": 9.05, "type": "quantitative", "axis": null}, "y": {"datum": 0.84, "type": "quantitative", "axis": null}}},
        {"mark": {"type": "text", "text": "1.04 V", "color": "#151515", "fontSize": 10, "fontWeight": "bold", "align": "left", "baseline": "middle"},
         "encoding": {"x": {"datum": 9.3, "type": "quantitative", "axis": null}, "y": {"datum": 0.84, "type": "quantitative", "axis": null}}}
      ]
    },
    {"width": 15, "height": 37, "data": {"values": [{}]}, "mark": {"type": "text", "text": ""}},
    {
      "width": 561,
      "height": 37,
      "data": {"values": [{}]},
      "layer": [
        {"mark": {"type": "rect", "fill": "#f4f1f6", "stroke": "#a0a0a0", "strokeWidth": 1, "cornerRadius": 6},
         "encoding": {"x": {"datum": 0.02, "type": "quantitative", "scale": {"domain": [0, 9.964], "nice": false, "zero": false}, "axis": null}, "x2": {"datum": 5.54},
                      "y": {"datum": 0.27, "type": "quantitative", "scale": {"domain": [0, 2], "reverse": true, "nice": false, "zero": false}, "axis": null}, "y2": {"datum": 0.97}}},
        {"mark": {"type": "rect", "fill": "#f4f1f6", "stroke": "#a0a0a0", "strokeWidth": 1, "cornerRadius": 6},
         "encoding": {"x": {"datum": 0.02, "type": "quantitative", "axis": null}, "x2": {"datum": 5.54},
                      "y": {"datum": 1.19, "type": "quantitative", "axis": null}, "y2": {"datum": 1.89}}},
        {"mark": {"type": "rect", "fill": "#f4f1f6", "stroke": "#a0a0a0", "strokeWidth": 1, "cornerRadius": 4},
         "encoding": {"x": {"datum": 5.67, "type": "quantitative", "axis": null}, "x2": {"datum": 7.18},
                      "y": {"datum": 0.22, "type": "quantitative", "axis": null}, "y2": {"datum": 1.89}}},
        {"mark": {"type": "rect", "fill": "#f4f1f6", "stroke": "#a0a0a0", "strokeWidth": 1, "cornerRadius": 4},
         "encoding": {"x": {"datum": 7.28, "type": "quantitative", "axis": null}, "x2": {"datum": 8.26},
                      "y": {"datum": 0.22, "type": "quantitative", "axis": null}, "y2": {"datum": 1.89}}},
        {"mark": {"type": "rect", "fill": "#f4f1f6", "stroke": "#a0a0a0", "strokeWidth": 1, "cornerRadius": 4},
         "encoding": {"x": {"datum": 8.44, "type": "quantitative", "axis": null}, "x2": {"datum": 9.94},
                      "y": {"datum": 0.22, "type": "quantitative", "axis": null}, "y2": {"datum": 1.89}}},
        {"mark": {"type": "point", "filled": true, "shape": "circle", "color": "#35163b", "size": 110, "opacity": 1},
         "encoding": {"x": {"datum": 4.4, "type": "quantitative", "axis": null}, "y": {"datum": 0.6, "type": "quantitative", "axis": null}}},
        {"mark": {"type": "text", "text": "1", "color": "#ffffff", "fontSize": 8, "fontWeight": "bold", "baseline": "middle"},
         "encoding": {"x": {"datum": 4.4, "type": "quantitative", "axis": null}, "y": {"datum": 0.6, "type": "quantitative", "axis": null}}},
        {"mark": {"type": "text", "text": "2.00 V", "color": "#151515", "fontSize": 10, "fontWeight": "bold", "align": "left", "baseline": "middle"},
         "encoding": {"x": {"datum": 4.64, "type": "quantitative", "axis": null}, "y": {"datum": 0.6, "type": "quantitative", "axis": null}}},
        {"mark": {"type": "point", "filled": true, "shape": "circle", "color": "#1f8386", "size": 100, "opacity": 1},
         "encoding": {"x": {"datum": 0.14, "type": "quantitative", "axis": null}, "y": {"datum": 1.55, "type": "quantitative", "axis": null}}},
        {"mark": {"type": "text", "text": "M", "color": "#ffffff", "fontSize": 7.5, "fontWeight": "bold", "baseline": "middle"},
         "encoding": {"x": {"datum": 0.14, "type": "quantitative", "axis": null}, "y": {"datum": 1.55, "type": "quantitative", "axis": null}}},
        {"mark": {"type": "text", "text": "1.00mV", "color": "#1f7f83", "fontSize": 10, "fontWeight": "bold", "align": "left", "baseline": "middle"},
         "encoding": {"x": {"datum": 0.34, "type": "quantitative", "axis": null}, "y": {"datum": 1.55, "type": "quantitative", "axis": null}}},
        {"mark": {"type": "text", "text": "100ns", "color": "#1f7f83", "fontSize": 10, "fontWeight": "bold", "align": "left", "baseline": "middle"},
         "encoding": {"x": {"datum": 3.3, "type": "quantitative", "axis": null}, "y": {"datum": 1.55, "type": "quantitative", "axis": null}}},
        {"mark": {"type": "text", "text": "100ns", "color": "#151515", "fontSize": 9.5, "fontWeight": "bold", "align": "left", "baseline": "middle"},
         "encoding": {"x": {"datum": 5.72, "type": "quantitative", "axis": null}, "y": {"datum": 0.55, "type": "quantitative", "axis": null}}},
        {"mark": {"type": "text", "text": "▮→▼880.400ns", "color": "#151515", "fontSize": 9, "fontWeight": "bold", "align": "left", "baseline": "middle"},
         "encoding": {"x": {"datum": 5.72, "type": "quantitative", "axis": null}, "y": {"datum": 1.3, "type": "quantitative", "axis": null}}},
        {"mark": {"type": "text", "text": "2.50GS/s", "color": "#151515", "fontSize": 9.5, "fontWeight": "bold", "align": "left", "baseline": "middle"},
         "encoding": {"x": {"datum": 7.31, "type": "quantitative", "axis": null}, "y": {"datum": 0.55, "type": "quantitative", "axis": null}}},
        {"mark": {"type": "text", "text": "10k points", "color": "#151515", "fontSize": 9, "fontWeight": "bold", "align": "left", "baseline": "middle"},
         "encoding": {"x": {"datum": 7.31, "type": "quantitative", "axis": null}, "y": {"datum": 1.3, "type": "quantitative", "axis": null}}},
        {"mark": {"type": "point", "filled": true, "shape": "circle", "color": "#35163b", "size": 110, "opacity": 1},
         "encoding": {"x": {"datum": 8.58, "type": "quantitative", "axis": null}, "y": {"datum": 0.84, "type": "quantitative", "axis": null}}},
        {"mark": {"type": "text", "text": "1", "color": "#ffffff", "fontSize": 8, "fontWeight": "bold", "baseline": "middle"},
         "encoding": {"x": {"datum": 8.58, "type": "quantitative", "axis": null}, "y": {"datum": 0.84, "type": "quantitative", "axis": null}}},
        {"mark": {"type": "text", "text": "ʃ", "color": "#151515", "fontSize": 10, "fontWeight": "bold", "baseline": "middle"},
         "encoding": {"x": {"datum": 9.05, "type": "quantitative", "axis": null}, "y": {"datum": 0.84, "type": "quantitative", "axis": null}}},
        {"mark": {"type": "text", "text": "1.04 V", "color": "#151515", "fontSize": 10, "fontWeight": "bold", "align": "left", "baseline": "middle"},
         "encoding": {"x": {"datum": 9.25, "type": "quantitative", "axis": null}, "y": {"datum": 0.84, "type": "quantitative", "axis": null}}}
      ]
    },
    {"width": 18, "height": 42, "data": {"values": [{}]}, "mark": {"type": "text", "text": ""}},
    {
      "width": 563,
      "height": 42,
      "data": {"name": "menu"},
      "layer": [
        {"mark": {"type": "rule", "color": "#707070", "strokeWidth": 1, "xOffset": 33.2},
         "encoding": {"x": {"field": "slot", "type": "quantitative", "scale": {"domain": [0.5475, 9.039], "nice": false, "zero": false}, "axis": null},
                      "y": {"datum": 0.22, "type": "quantitative", "scale": {"domain": [0, 1], "reverse": true, "nice": false, "zero": false}, "axis": null}, "y2": {"datum": 0.9}}},
        {"mark": {"type": "text", "lineBreak": "\n", "lineHeight": 9, "fontSize": 8, "color": "#a9a9a9", "align": "center", "baseline": "middle"},
         "encoding": {"x": {"field": "slot", "type": "quantitative", "axis": null},
                      "y": {"datum": 0.5, "type": "quantitative", "axis": null}, "text": {"field": "label"}}},
        {"data": {"values": [{}]}, "mark": {"type": "rect", "fill": "#f5f3f6", "stroke": "#b0b0b0", "strokeWidth": 1, "cornerRadius": 3},
         "encoding": {"x": {"datum": 8.09, "type": "quantitative", "axis": null}, "x2": {"datum": 9.02},
                      "y": {"datum": 0.21, "type": "quantitative", "axis": null}, "y2": {"datum": 0.98}}},
        {"data": {"values": [{}]}, "mark": {"type": "text", "text": "21 Mar 2012\n10:35:16", "lineBreak": "\n", "lineHeight": 10.5, "fontSize": 9, "fontWeight": "bold", "color": "#111111", "align": "left", "baseline": "middle"},
         "encoding": {"x": {"datum": 8.12, "type": "quantitative", "axis": null}, "y": {"datum": 0.58, "type": "quantitative", "axis": null}}}
      ]
    },
    {"width": 15, "height": 42, "data": {"values": [{}]}, "mark": {"type": "text", "text": ""}},
    {
      "width": 561,
      "height": 42,
      "data": {"name": "menu"},
      "layer": [
        {"mark": {"type": "rule", "color": "#707070", "strokeWidth": 1, "xOffset": 33.2},
         "encoding": {"x": {"field": "slot", "type": "quantitative", "scale": {"domain": [0.517, 8.979], "nice": false, "zero": false}, "axis": null},
                      "y": {"datum": 0.22, "type": "quantitative", "scale": {"domain": [0, 1], "reverse": true, "nice": false, "zero": false}, "axis": null}, "y2": {"datum": 0.9}}},
        {"mark": {"type": "text", "lineBreak": "\n", "lineHeight": 9, "fontSize": 8, "color": "#a9a9a9", "align": "center", "baseline": "middle"},
         "encoding": {"x": {"field": "slot", "type": "quantitative", "axis": null},
                      "y": {"datum": 0.5, "type": "quantitative", "axis": null}, "text": {"field": "label"}}},
        {"data": {"values": [{}]}, "mark": {"type": "rect", "fill": "#f5f3f6", "stroke": "#b0b0b0", "strokeWidth": 1, "cornerRadius": 3},
         "encoding": {"x": {"datum": 8.09, "type": "quantitative", "axis": null}, "x2": {"datum": 8.97},
                      "y": {"datum": 0.21, "type": "quantitative", "axis": null}, "y2": {"datum": 0.98}}},
        {"data": {"values": [{}]}, "mark": {"type": "text", "text": "21 Mar 2012\n10:32:40", "lineBreak": "\n", "lineHeight": 10.5, "fontSize": 9, "fontWeight": "bold", "color": "#111111", "align": "left", "baseline": "middle"},
         "encoding": {"x": {"datum": 8.12, "type": "quantitative", "axis": null}, "y": {"datum": 0.58, "type": "quantitative", "axis": null}}}
      ]
    }
  ]
}
